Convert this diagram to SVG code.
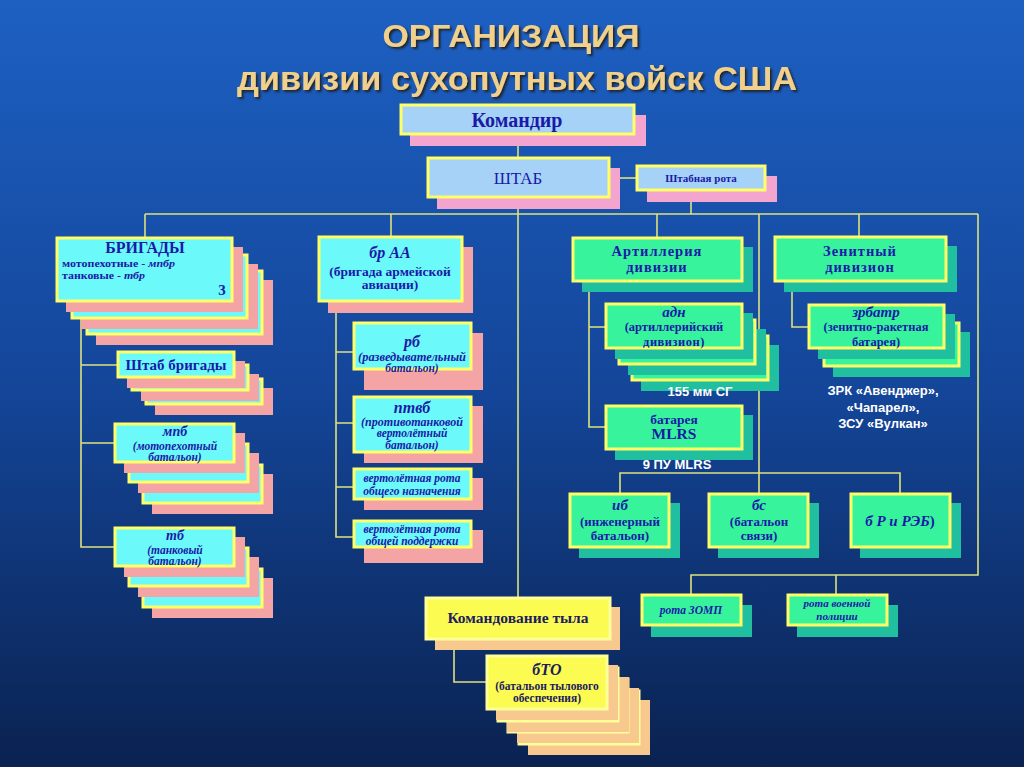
<svg xmlns="http://www.w3.org/2000/svg" width="1024" height="767" viewBox="0 0 1024 767">
<defs>
<linearGradient id="bg" x1="0" y1="0" x2="0" y2="1">
<stop offset="0" stop-color="#1d60c2"/>
<stop offset="0.5" stop-color="#14469a"/>
<stop offset="1" stop-color="#0a2250"/>
</linearGradient>
<filter id="ts" x="-5%" y="-20%" width="110%" height="140%">
<feDropShadow dx="2" dy="2" stdDeviation="0.8" flood-color="#1a1a1a" flood-opacity="0.9"/>
</filter>
<style>
.ln{stroke:#dde27e;stroke-width:1.6;fill:none}
.bl{fill:#a6d2f7;stroke:#ffff66;stroke-width:3}
.pk{fill:#f3a5cf}
.cy{fill:#6cf9f9;stroke:#ffff66;stroke-width:3}
.sa{fill:#f4a4a4}
.gr{fill:#36f39c;stroke:#ffff66;stroke-width:3}
.te{fill:#1fbf9f}
.ye{fill:#fbfb52;stroke:#ffff99;stroke-width:3}
.pe{fill:#f7c98e}
.t{font-family:"Liberation Serif","Times New Roman",serif;font-weight:bold;fill:#1a1aa8;text-anchor:middle}
.d{fill:#1c1c5e}
.i{font-style:italic}
.w{font-family:"Liberation Sans",Arial,sans-serif;font-weight:bold;fill:#ffffff;text-anchor:middle;font-size:13px}
.ti{font-family:"Liberation Sans",Arial,sans-serif;font-weight:bold;fill:#f0d08a;text-anchor:middle;filter:url(#ts)}
</style>
</defs>
<rect x="0" y="0" width="1024" height="767" fill="url(#bg)"/>

<g id="title">
<text class="ti" x="511" y="47" font-size="32" textLength="257" lengthAdjust="spacingAndGlyphs">ОРГАНИЗАЦИЯ</text>
<text class="ti" x="517" y="90" font-size="34" textLength="560" lengthAdjust="spacingAndGlyphs">дивизии сухопутных войск США</text>
</g>

<g id="connectors">
<path class="ln" d="M518 136V157"/>
<path class="ln" d="M610 178H636"/>
<path class="ln" d="M691 191V214"/>
<path class="ln" d="M145 214H978"/>
<path class="ln" d="M518 198V597"/>
<path class="ln" d="M145 214V237M391 214V236M657 214V237M859 214V236"/>
<path class="ln" d="M759 214V493"/>
<path class="ln" d="M978 214V575H691V594M836 575V594"/>
<path class="ln" d="M620 493V473H900V493"/>
<path class="ln" d="M81 302V547H114M81 365H117M81 443H114"/>
<path class="ln" d="M336 302V537H353M336 352H353M336 423H353M336 487H353"/>
<path class="ln" d="M589 282V427H605M589 327H605"/>
<path class="ln" d="M792 282V327H808"/>
<path class="ln" d="M454 640V682H486"/>
</g>

<g id="komandir">
<rect class="pk" x="410" y="115" width="236" height="31"/>
<rect class="bl" x="401" y="105" width="233" height="29"/>
<text class="t" x="517" y="127" font-size="20">Командир</text>
</g>

<g id="shtab">
<rect class="pk" x="437" y="168" width="183" height="41"/>
<rect class="bl" x="428" y="158" width="181" height="39"/>
<text class="t" x="518" y="184" font-size="17" style="font-weight:normal">ШТАБ</text>
</g>

<g id="shtab-rota">
<rect class="pk" x="647" y="176" width="130" height="26"/>
<rect class="bl" x="637" y="166" width="128" height="24"/>
<text class="t" x="701" y="182" font-size="11">Штабная рота</text>
</g>

<g id="brigady">
<rect class="sa" x="96" y="280" width="177" height="65"/>
<rect class="cy" x="87" y="271" width="175" height="63"/>
<rect class="sa" x="81" y="264" width="177" height="65"/>
<rect class="cy" x="72" y="255" width="175" height="63"/>
<rect class="sa" x="66" y="247" width="177" height="65"/>
<rect class="cy" x="57" y="238" width="175" height="63"/>
<text class="t" x="145" y="253" font-size="16">БРИГАДЫ</text>
<text class="t" x="62" y="267" font-size="10.5" style="text-anchor:start" textLength="113" lengthAdjust="spacingAndGlyphs">мотопехотные - <tspan class="i">мпбр</tspan></text>
<text class="t" x="62" y="279" font-size="10.5" style="text-anchor:start" textLength="83" lengthAdjust="spacingAndGlyphs">танковые - <tspan class="i">тбр</tspan></text>
<text class="t" x="222" y="295" font-size="15">3</text>
</g>

<g id="shtab-brigady">
<rect class="sa" x="155" y="388" width="118" height="27"/>
<rect class="cy" x="146" y="379" width="116" height="25"/>
<rect class="sa" x="141" y="374" width="118" height="27"/>
<rect class="cy" x="132" y="365" width="116" height="25"/>
<rect class="sa" x="127" y="361" width="118" height="27"/>
<rect class="cy" x="118" y="352" width="116" height="25"/>
<text class="t" x="176" y="370" font-size="15">Штаб бригады</text>
</g>

<g id="mpb">
<rect class="sa" x="152" y="474" width="121" height="40"/>
<rect class="cy" x="143" y="465" width="119" height="38"/>
<rect class="sa" x="138" y="453" width="121" height="40"/>
<rect class="cy" x="129" y="444" width="119" height="38"/>
<rect class="sa" x="124" y="433" width="121" height="40"/>
<rect class="cy" x="115" y="424" width="119" height="38"/>
<text class="t i" x="175" y="436" font-size="14">мпб</text>
<text class="t i" x="175" y="450" font-size="11.5">(мотопехотный</text>
<text class="t i" x="175" y="461" font-size="11.5">батальон)</text>
</g>

<g id="tb">
<rect class="sa" x="152" y="578" width="121" height="40"/>
<rect class="cy" x="143" y="569" width="119" height="38"/>
<rect class="sa" x="138" y="557" width="121" height="40"/>
<rect class="cy" x="129" y="548" width="119" height="38"/>
<rect class="sa" x="124" y="537" width="121" height="40"/>
<rect class="cy" x="115" y="528" width="119" height="38"/>
<text class="t i" x="175" y="540" font-size="14">тб</text>
<text class="t i" x="175" y="554" font-size="11.5">(танковый</text>
<text class="t i" x="175" y="565" font-size="11.5">батальон)</text>
</g>

<g id="br-aa">
<rect class="sa" x="328" y="247" width="145" height="66"/>
<rect class="cy" x="319" y="237" width="143" height="64"/>
<text class="t i" x="390" y="258" font-size="16">бр АА</text>
<text class="t" x="390" y="276" font-size="13.5">(бригада армейской</text>
<text class="t" x="390" y="289" font-size="13.5">авиации)</text>
</g>

<g id="rb">
<rect class="sa" x="364" y="333" width="119" height="57"/>
<rect class="cy" x="354" y="323" width="117" height="46"/>
<text class="t i" x="412" y="347" font-size="16">рб</text>
<text class="t i" x="412" y="361" font-size="11.5" textLength="108" lengthAdjust="spacingAndGlyphs">(разведывательный</text>
<text class="t i" x="412" y="372" font-size="11.5">батальон)</text>
</g>

<g id="ptvb">
<rect class="sa" x="364" y="406" width="119" height="57"/>
<rect class="cy" x="354" y="397" width="117" height="55"/>
<text class="t i" x="412" y="413" font-size="16">птвб</text>
<text class="t i" x="412" y="426" font-size="11.5" textLength="102" lengthAdjust="spacingAndGlyphs">(противотанковой</text>
<text class="t i" x="412" y="437" font-size="11.5">вертолётный</text>
<text class="t i" x="412" y="449" font-size="11.5">батальон)</text>
</g>

<g id="vr-on">
<rect class="sa" x="364" y="478" width="119" height="32"/>
<rect class="cy" x="354" y="469" width="117" height="30"/>
<text class="t i" x="412" y="482" font-size="11.5">вертолётная рота</text>
<text class="t i" x="412" y="495" font-size="11.5">общего назначения</text>
</g>

<g id="vr-op">
<rect class="sa" x="364" y="530" width="119" height="33"/>
<rect class="cy" x="354" y="521" width="117" height="26"/>
<text class="t i" x="412" y="533" font-size="11.5">вертолётная рота</text>
<text class="t i" x="412" y="545" font-size="11.5">общей поддержки</text>
</g>

<g id="artilleriya">
<rect class="te" x="582" y="247" width="171" height="45"/>
<rect class="gr" x="573" y="238" width="169" height="43"/>
<text class="t" x="657" y="256" font-size="14.5" letter-spacing="1">Артиллерия</text>
<text class="t" x="657" y="272" font-size="14.5" letter-spacing="1">дивизии</text>
</g>

<g id="adn">
<rect class="te" x="641" y="345" width="138" height="46"/>
<rect class="gr" x="632" y="336" width="136" height="44"/>
<rect class="te" x="628" y="329" width="138" height="46"/>
<rect class="gr" x="619" y="320" width="136" height="44"/>
<rect class="te" x="615" y="313" width="138" height="46"/>
<rect class="gr" x="606" y="304" width="136" height="44"/>
<text class="t i" x="674" y="317" font-size="15">адн</text>
<text class="t" x="674" y="331" font-size="12.5">(артиллерийский</text>
<text class="t" x="674" y="346" font-size="12.5" letter-spacing="0.5">дивизион)</text>
</g>

<g id="mlrs">
<rect class="te" x="615" y="415" width="138" height="45"/>
<rect class="gr" x="606" y="406" width="136" height="43"/>
<text class="t" x="674" y="424" font-size="13.5">батарея</text>
<text class="t" x="674" y="439" font-size="15.5">MLRS</text>
</g>

<g id="zenitny">
<rect class="te" x="784" y="246" width="173" height="46"/>
<rect class="gr" x="775" y="237" width="171" height="44"/>
<text class="t" x="860" y="256" font-size="14.5" letter-spacing="1">Зенитный</text>
<text class="t" x="860" y="272" font-size="14.5" letter-spacing="1">дивизион</text>
</g>

<g id="zrbatr">
<rect class="te" x="833" y="332" width="137" height="45"/>
<rect class="gr" x="824" y="323" width="135" height="43"/>
<rect class="te" x="818" y="314" width="137" height="45"/>
<rect class="gr" x="809" y="305" width="135" height="43"/>
<text class="t i" x="876" y="317" font-size="15">зрбатр</text>
<text class="t" x="876" y="331" font-size="12.5">(зенитно-ракетная</text>
<text class="t" x="876" y="346" font-size="12.5">батарея)</text>
</g>

<g id="ib">
<rect class="te" x="579" y="503" width="101" height="55"/>
<rect class="gr" x="570" y="494" width="99" height="53"/>
<text class="t i" x="620" y="510" font-size="15">иб</text>
<text class="t" x="620" y="526" font-size="13">(инженерный</text>
<text class="t" x="620" y="540" font-size="13">батальон)</text>
</g>

<g id="bs">
<rect class="te" x="718" y="503" width="101" height="55"/>
<rect class="gr" x="709" y="494" width="99" height="53"/>
<text class="t i" x="759" y="510" font-size="15">бс</text>
<text class="t" x="759" y="526" font-size="13">(батальон</text>
<text class="t" x="759" y="540" font-size="13">связи)</text>
</g>

<g id="breb">
<rect class="te" x="860" y="503" width="101" height="55"/>
<rect class="gr" x="851" y="494" width="99" height="53"/>
<text class="t" x="900" y="526" font-size="15"><tspan class="i">б Р и РЭБ</tspan>)</text>
</g>

<g id="rota-zomp">
<rect class="te" x="651" y="605" width="101" height="32"/>
<rect class="gr" x="642" y="595" width="99" height="30"/>
<text class="t i" x="691" y="614" font-size="11.5">рота ЗОМП</text>
</g>

<g id="rota-vp">
<rect class="te" x="797" y="605" width="101" height="32"/>
<rect class="gr" x="788" y="595" width="99" height="30"/>
<text class="t i" x="837" y="607" font-size="11">рота военной</text>
<text class="t i" x="837" y="620" font-size="11">полиции</text>
</g>

<g id="komandovanie-tyla">
<rect class="pe" x="435" y="607" width="185" height="43"/>
<rect class="ye" x="426" y="598" width="184" height="41"/>
<text class="t d" x="518" y="623" font-size="15.5">Командование тыла</text>
</g>

<g id="bto">
<rect class="pe" x="528" y="700" width="122" height="55"/>
<rect class="ye" x="519" y="691" width="120" height="53"/>
<rect class="pe" x="517" y="688" width="122" height="55"/>
<rect class="ye" x="508" y="679" width="120" height="53"/>
<rect class="pe" x="507" y="677" width="122" height="55"/>
<rect class="ye" x="498" y="668" width="120" height="53"/>
<rect class="pe" x="496" y="665" width="122" height="55"/>
<rect class="ye" x="487" y="656" width="120" height="53"/>
<text class="t d i" x="547" y="675" font-size="16">бТО</text>
<text class="t d" x="547" y="690" font-size="11.5">(батальон тылового</text>
<text class="t d" x="547" y="702" font-size="11.5">обеспечения)</text>
</g>

<g id="notes">
<text class="w" x="700" y="396">155 мм СГ</text>
<text class="w" x="677" y="469">9 ПУ MLRS</text>
<text class="w" x="883" y="395">ЗРК «Авенджер»,</text>
<text class="w" x="883" y="412">«Чапарел»,</text>
<text class="w" x="883" y="428">ЗСУ «Вулкан»</text>
</g>
</svg>
